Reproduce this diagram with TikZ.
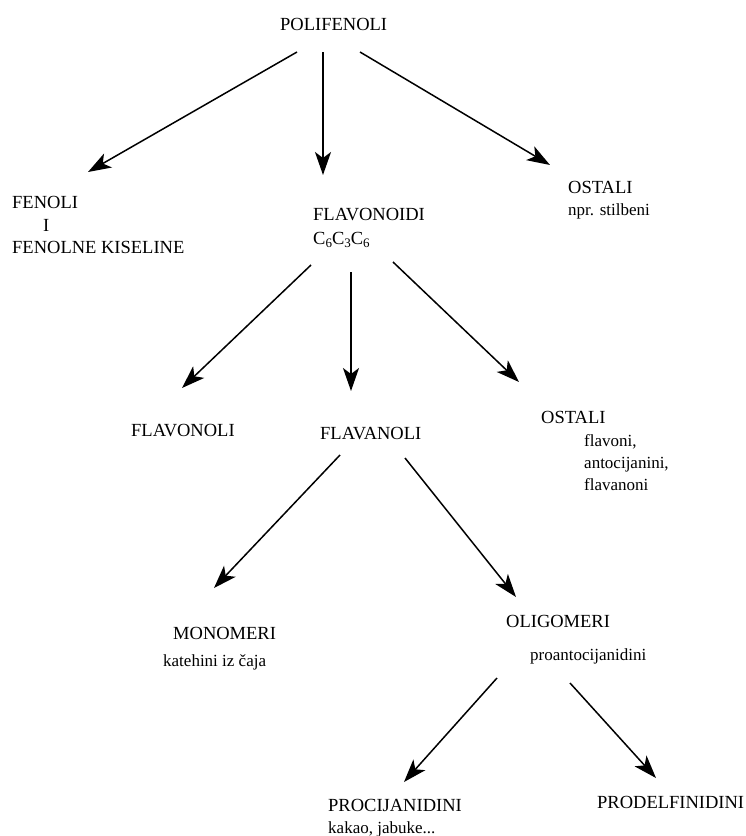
\documentclass[tikz,border=0pt]{standalone}
\usepackage{fontspec}
\setmainfont{Liberation Serif}
\usetikzlibrary{arrows.meta}
\newcommand\mysub[1]{\raisebox{-0.4ex}{\fontsize{13}{13}\selectfont #1}}
\begin{document}
\begin{tikzpicture}[x=1pt,y=-1pt,
  lbl/.style={anchor=base west,inner sep=0pt,font=\fontsize{18.5}{22}\selectfont},
  sm/.style={anchor=base west,inner sep=0pt,font=\fontsize{17}{21}\selectfont},
  arr/.style={line width=1.5pt,-{Stealth[length=23pt,width=16pt,inset=6pt]}}]
\useasboundingbox (0,0) rectangle (746,836);
% texts
\node[lbl] (poli) at (280,30) {POLIFENOLI};
\node[lbl] (fen) at (12,208) {FENOLI};
\node[lbl] (feni) at (43,231) {I};
\node[lbl] (fenk) at (12,253) {FENOLNE KISELINE};
\node[lbl] (flav) at (313,220) {FLAVONOIDI};
\node[lbl] (cform) at (313,244) {C\mysub{6}C\mysub{3}C\mysub{6}};
\node[lbl] (ost1) at (568,193) {OSTALI};
\node[sm] (stil) at (568,215) {npr. stilbeni};
\node[lbl] (flvl) at (131,436) {FLAVONOLI};
\node[lbl] (flnl) at (320,439) {FLAVANOLI};
\node[lbl] (ost2) at (541,423) {OSTALI};
\node[sm] (fv1) at (584,446) {flavoni,};
\node[sm] (fv2) at (584,468) {antocijanini,};
\node[sm] (fv3) at (584,490) {flavanoni};
\node[lbl] (mono) at (173,639) {MONOMERI};
\node[sm] (kat) at (163,666) {katehini iz čaja};
\node[lbl] (olig) at (506,627) {OLIGOMERI};
\node[sm] (proa) at (530,660) {proantocijanidini};
\node[lbl] (proc) at (328,811) {PROCIJANIDINI};
\node[sm] (kak) at (328,833) {kakao, jabuke...};
\node[lbl] (prod) at (597,808) {PRODELFINIDINI};
% connector end points
\coordinate (a1s) at (297,52); \coordinate (a1e) at (88,172);
\coordinate (a2s) at (323,52); \coordinate (a2e) at (323,175);
\coordinate (a3s) at (360,52); \coordinate (a3e) at (550,165);
\coordinate (b1s) at (311,265); \coordinate (b1e) at (182,388);
\coordinate (b2s) at (351,272); \coordinate (b2e) at (351,391);
\coordinate (b3s) at (393,262); \coordinate (b3e) at (519,382);
\coordinate (c1s) at (340,455); \coordinate (c1e) at (214,588);
\coordinate (c2s) at (405,458); \coordinate (c2e) at (516,597);
\coordinate (d1s) at (497,678); \coordinate (d1e) at (404,782);
\coordinate (d2s) at (570,683); \coordinate (d2e) at (656,778);
\draw[arr] (a1s) -- (a1e);
\draw[arr] (a2s) -- (a2e);
\draw[arr] (a3s) -- (a3e);
\draw[arr] (b1s) -- (b1e);
\draw[arr] (b2s) -- (b2e);
\draw[arr] (b3s) -- (b3e);
\draw[arr] (c1s) -- (c1e);
\draw[arr] (c2s) -- (c2e);
\draw[arr] (d1s) -- (d1e);
\draw[arr] (d2s) -- (d2e);
\end{tikzpicture}
\end{document}
